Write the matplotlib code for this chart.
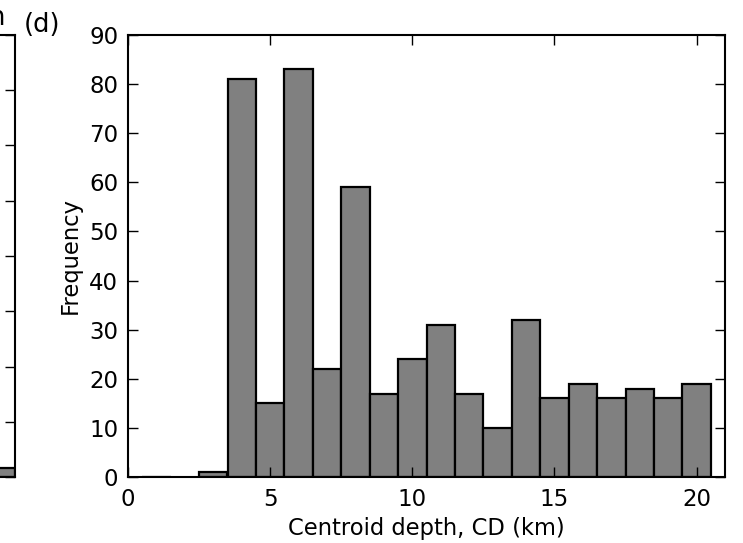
import matplotlib
matplotlib.use("Agg")
import matplotlib.pyplot as plt

# Centroid depth histogram, panel (d)
depth_km = [1, 3, 4, 5, 6, 7, 8, 9, 10, 11, 12, 13, 14, 15, 16, 17, 18, 19, 20]
frequency = [0, 1, 81, 15, 83, 22, 59, 17, 24, 31, 17, 10, 32, 16, 19, 16, 18, 16, 19]

# what is left of panel (c) at the left edge
left_panel_value = [1.6]

plt.rcParams['font.family'] = 'DejaVu Sans'
plt.rcParams['font.size'] = 16.3

fig = plt.figure(figsize=(7.43, 5.43), dpi=100)

W, H = 743.0, 543.0
ax = fig.add_axes([128 / W, 1 - 477 / H, (725 - 128) / W, (477 - 35) / H])

ax.bar(depth_km, frequency, width=1.0, color='#808080', edgecolor='black',
       linewidth=1.6, align='center')
ax.set_xlim(0, 21)
ax.set_ylim(0, 90)
ax.set_xticks([0, 5, 10, 15, 20])
ax.set_yticks(range(0, 91, 10))
ax.set_xlabel("Centroid depth, CD (km)", fontsize=16.3, labelpad=4)
ax.set_ylabel("Frequency", fontsize=16.3, labelpad=5)
ax.tick_params(direction='in', top=True, right=True, length=7, width=1.0,
               labelsize=16.5)
ax.tick_params(axis='x', pad=8)
ax.tick_params(axis='y', pad=7)
for s in ax.spines.values():
    s.set_linewidth(1.5)

fig.text(42 / W, 1 - 25 / H, "(d)", ha='center', va='center', fontsize=18.5)

# partial panel (c), mostly outside the figure
axc = fig.add_axes([-0.6, 1 - 477 / H, 0.6 + 14.5 / W, (477 - 35) / H])
axc.bar([0.5], left_panel_value, width=1.0, color='#808080',
        edgecolor='black', linewidth=1.6)
axc.set_xlim(0, 1)
axc.set_ylim(0, 80)
axc.set_yticks(range(0, 81, 10))
axc.set_xticks([])
axc.tick_params(direction='in', right=True, length=7, width=1.0,
                labelleft=False)
for s in axc.spines.values():
    s.set_linewidth(1.5)
fig.text(5 / W, 1 - 18 / H, "n", ha='right', va='center', fontsize=18.5)

fig.savefig("out.png", dpi=100)
